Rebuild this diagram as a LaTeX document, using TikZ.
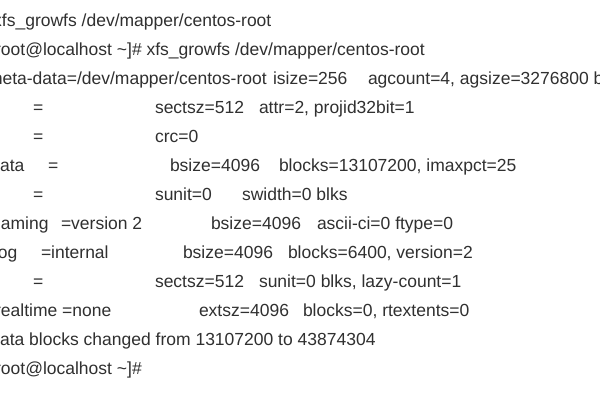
\documentclass[tikz,border=0pt]{standalone}
\usepackage{fontspec}
\setmainfont{Liberation Sans}
\definecolor{termgray}{HTML}{303030}
\tikzset{txt/.style={anchor=base west, inner sep=0pt, outer sep=0pt, text=termgray, font=\fontsize{17.5}{20}\selectfont}}
\begin{document}
\begin{tikzpicture}[x=1pt,y=-1pt]
\useasboundingbox (0,0) rectangle (600,400);
\fill[white] (0,0) rectangle (600,400);
\clip (0,0) rectangle (600,400);
% line 1
\node[txt] (l1) at (-6.8,26) {xfs\_growfs /dev/mapper/centos-root};
% line 2
\node[txt] (l2) at (-4.9,55) {root@localhost \textasciitilde]\# xfs\_growfs /dev/mapper/centos-root};
% line 3
\node[txt] (l3a) at (-12,84) {meta-data=/dev/mapper/centos-root};
\node[txt] (l3b) at (273,84) {isize=256};
\node[txt] (l3c) at (368,84) {agcount=4, agsize=3276800 blks};
% line 4
\node[txt] (l4a) at (33,113) {=};
\node[txt] (l4b) at (155,113) {sectsz=512};
\node[txt] (l4c) at (259,113) {attr=2, projid32bit=1};
% line 5
\node[txt] (l5a) at (33,142) {=};
\node[txt] (l5b) at (155,142) {crc=0};
% line 6
\node[txt] (l6a) at (-9.7,171) {data};
\node[txt] (l6b) at (48,171) {=};
\node[txt] (l6c) at (170,171) {bsize=4096};
\node[txt] (l6d) at (279,171) {blocks=13107200, imaxpct=25};
% line 7
\node[txt] (l7a) at (33,200) {=};
\node[txt] (l7b) at (155,200) {sunit=0};
\node[txt] (l7c) at (242,200) {swidth=0 blks};
% line 8
\node[txt] (l8a) at (-8.8,229) {naming};
\node[txt] (l8b) at (61,229) {=version 2};
\node[txt] (l8c) at (211,229) {bsize=4096};
\node[txt] (l8d) at (317,229) {ascii-ci=0 ftype=0};
% line 9
\node[txt] (l9a) at (-6,258) {log};
\node[txt] (l9b) at (41,258) {=internal};
\node[txt] (l9c) at (183,258) {bsize=4096};
\node[txt] (l9d) at (288,258) {blocks=6400, version=2};
% line 10
\node[txt] (l10a) at (33,287) {=};
\node[txt] (l10b) at (155,287) {sectsz=512};
\node[txt] (l10c) at (259,287) {sunit=0 blks, lazy-count=1};
% line 11
\node[txt] (l11a) at (-4.9,316) {realtime =none};
\node[txt] (l11b) at (199,316) {extsz=4096};
\node[txt] (l11c) at (303,316) {blocks=0, rtextents=0};
% line 12
\node[txt] (l12) at (-9.7,345) {data blocks changed from 13107200 to 43874304};
% line 13
\node[txt] (l13) at (-4.9,374) {root@localhost \textasciitilde]\#};
\end{tikzpicture}
\end{document}
